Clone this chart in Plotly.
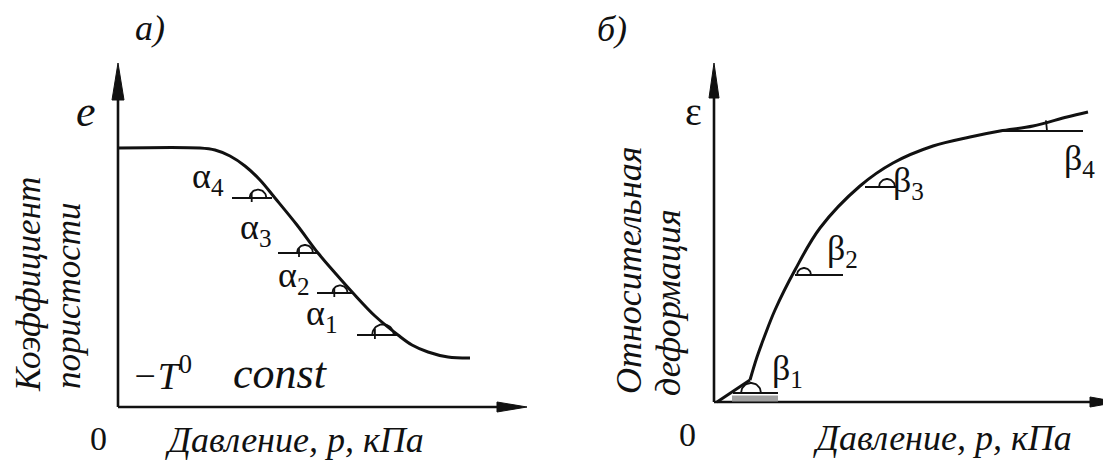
import numpy as np
import plotly.graph_objects as go

# ---------------- data (unitless) ----------------
# panel a): void ratio e vs pressure p
p_a = [0, 20.5, 24.25, 28, 31.75, 35.5, 39.25, 44.75, 50, 54.5, 58.75, 64.25, 70, 73.5, 77.5, 82.5, 88]
e_a = [64.75, 64.75, 64.25, 62.75, 60.25, 56.75, 52.25, 45.5, 38.5, 33.25, 28.5, 22.75, 18, 15.5, 13.75, 12.5, 12.25]

# tangent (horizontal) reference lines for alpha angles
alpha_names = ["α<sub>4</sub>", "α<sub>3</sub>", "α<sub>2</sub>", "α<sub>1</sub>"]
alpha_x0 = [28.5, 40, 49.75, 59.75]
alpha_x1 = [38.5, 50, 58.75, 70]
alpha_y = [52.25, 38.5, 28.5, 18]
alpha_arc_x = [35, 46.75, 55.5, 66.25]
alpha_arc_r = [2.1, 2.0, 1.9, 2.7]
alpha_lab_x = [22.5, 34.25, 43.75, 50.75]
alpha_lab_y = [57.25, 44.5, 32.5, 23]

# panel б): relative strain eps vs pressure p
p_b = [0.75, 9, 10.75, 12.75, 15.25, 20.25, 26.5, 36.5, 44.75, 54.75, 64, 71.5, 79.75, 88.25, 93.5]
eps_b = [0, 5.5, 11.25, 16.75, 23, 33, 43.5, 54, 59.75, 64, 66.25, 67.75, 69, 71.25, 72.5]

beta_names = ["β<sub>1</sub>", "β<sub>2</sub>", "β<sub>3</sub>", "β<sub>4</sub>"]
beta_x0 = [4.75, 20.25, 37.75, 71.5]
beta_x1 = [16, 32.25, 45.75, 92.25]
beta_y = [2.25, 31.75, 53.75, 67.75]
beta_arc_x = [9.25, 22.5, 43.25, 71.5]
beta_arc_r = [2.5, 1.75, 2.0, 11.75]
beta_lab_x = [18.25, 32, 48.5, 91.25]
beta_lab_y = [8, 38, 55, 60.5]

FONT = "Liberation Serif"
BLACK = "#111111"

fig = go.Figure()


def add_line(xs, ys, xa, ya, width=2, color=BLACK, shape="linear"):
    fig.add_trace(go.Scatter(x=xs, y=ys, mode="lines", xaxis=xa, yaxis=ya,
                             line=dict(color=color, width=width, shape=shape),
                             hoverinfo="skip", showlegend=False))


def add_arrow(xa, ya, tip, length, half, direction):
    # filled arrowhead at the end of an axis
    if direction == "x":
        xs = [tip, tip - length, tip - length, tip]
        ys = [0, half, -half, 0]
    else:
        xs = [0, half, -half, 0]
        ys = [tip, tip - length, tip - length, tip]
    fig.add_trace(go.Scatter(x=xs, y=ys, mode="lines", fill="toself", fillcolor=BLACK,
                             xaxis=xa, yaxis=ya, line=dict(color=BLACK, width=1),
                             hoverinfo="skip", showlegend=False))


def add_bump(xa, ya, cx, cy, r, tick=True):
    t = np.linspace(0, np.pi, 30)
    add_line(list(cx + r * np.cos(t)), list(cy + r * np.sin(t)), xa, ya, width=1.8)
    if tick:
        add_line([cx - r * 0.75, cx - r * 0.75], [cy - 1.0, cy + r * 0.6], xa, ya, width=1.8)


# ---------------- panel a) ----------------
add_line([0, 100], [0, 0], "x", "y", width=2.6)
add_line([0, 0], [0, 80], "x", "y", width=2.6)
add_arrow("x", "y", 102.25, 7.5, 1.25, "x")
add_arrow("x", "y", 86, 9.25, 1.5, "y")
add_line(p_a, e_a, "x", "y", width=3, shape="spline")
for i in range(4):
    add_line([alpha_x0[i], alpha_x1[i]], [alpha_y[i], alpha_y[i]], "x", "y", width=2)
    add_bump("x", "y", alpha_arc_x[i], alpha_y[i], alpha_arc_r[i])

# ---------------- panel б) ----------------
add_line([0, 96], [0, 0], "x2", "y2", width=2.6)
add_line([0, 0], [0, 78], "x2", "y2", width=2.6)
add_arrow("x2", "y2", 101, 7.0, 1.25, "x")
add_arrow("x2", "y2", 84.75, 8.75, 1.25, "y")
# grey band under the beta1 line
add_line([4.5, 16], [0.9, 0.9], "x2", "y2", width=6, color="#a0a0a0")
add_line(p_b[:2], eps_b[:2], "x2", "y2", width=3)
add_line(p_b[1:], eps_b[1:], "x2", "y2", width=3, shape="spline")
for i in range(4):
    add_line([beta_x0[i], beta_x1[i]], [beta_y[i], beta_y[i]], "x2", "y2", width=2)
    if i < 3:
        add_bump("x2", "y2", beta_arc_x[i], beta_y[i], beta_arc_r[i], tick=False)
    else:
        t = np.linspace(0, np.radians(13), 12)
        add_line(list(beta_arc_x[i] + beta_arc_r[i] * np.cos(t)),
                 list(beta_y[i] + beta_arc_r[i] * np.sin(t)), "x2", "y2", width=1.8)

# ---------------- texts ----------------
ann = []


def txt(x, y, s, xr, yr, size=30, angle=0):
    ann.append(dict(x=x, y=y, xref=xr, yref=yr, text=s, showarrow=False, textangle=angle,
                    font=dict(family=FONT, size=size, color=BLACK),
                    xanchor="center", yanchor="middle"))


for i in range(4):
    txt(alpha_lab_x[i], alpha_lab_y[i], alpha_names[i], "x", "y", size=36)
    txt(beta_lab_x[i], beta_lab_y[i], beta_names[i], "x2", "y2", size=36)

txt(-8, 74, "<i>e</i>", "x", "y", size=44)
txt(-5, -7.75, "0", "x", "y", size=34)
txt(44, -8.25, "<i>Давление, p, кПа</i>", "x", "y", size=36)
txt(8, 94.75, "<i>а)</i>", "x", "y", size=36)
txt(11, 8.5, "<i>−T</i><sup>0</sup>", "x", "y", size=38)
txt(40.5, 8.5, "<i>const</i>", "x", "y", size=44)
txt(-22.5, 30.5, "<i>Коэффициент</i>", "x", "y", size=35, angle=-90)
txt(-12.5, 27.75, "<i>пористости</i>", "x", "y", size=35, angle=-90)

txt(-5.25, 72.75, "ε", "x2", "y2", size=40)
txt(-6.75, -8, "0", "x2", "y2", size=34)
txt(57, -9, "<i>Давление, p, кПа</i>", "x2", "y2", size=36)
txt(-25.5, 93.25, "<i>б)</i>", "x2", "y2", size=36)
txt(-21.25, 33, "<i>Относительная</i>", "x2", "y2", size=36, angle=-90)
txt(-11.5, 24.75, "<i>деформация</i>", "x2", "y2", size=36, angle=-90)

# the page body adds an 8 px offset; ranges are shifted by 2 units (8 px / 4 px per unit)
ax_common = dict(visible=False, showgrid=False, zeroline=False, fixedrange=True)
fig.update_layout(
    width=1111, height=463,
    margin=dict(l=0, r=0, t=0, b=0),
    paper_bgcolor="white", plot_bgcolor="white",
    showlegend=False,
    font=dict(family=FONT, color=BLACK),
    xaxis=dict(domain=[0, 0.5], range=[-27.5, 111.375], **ax_common),
    yaxis=dict(domain=[0, 1], range=[-16, 99.75], **ax_common),
    xaxis2=dict(domain=[0.5, 1], range=[-37.625, 101.25], anchor="y2", **ax_common),
    yaxis2=dict(domain=[0, 1], range=[-17.25, 98.5], anchor="x2", **ax_common),
    annotations=ann,
)

fig.write_html("out.html")
